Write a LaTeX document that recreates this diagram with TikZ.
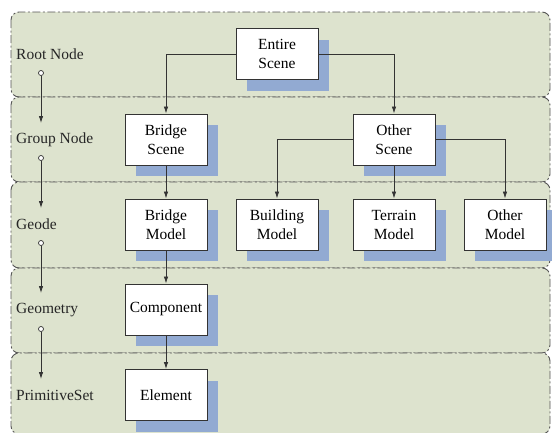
\documentclass[tikz,border=0pt]{standalone}
\usepackage{fontspec}
\setmainfont{Liberation Serif}
\usetikzlibrary{arrows.meta,shadows}
\definecolor{bandfill}{HTML}{DDE3CE}
\definecolor{bandline}{HTML}{555555}
\definecolor{shadowblue}{HTML}{92AAD2}
\definecolor{boxline}{HTML}{333333}
\begin{document}
\begin{tikzpicture}[x=1pt,y=-1pt,
  band/.style={fill=bandfill,draw=bandline,line width=0.9pt,rounded corners=8pt,
    dash pattern=on 8pt off 2.5pt on 2pt off 2.5pt},
  box/.style={draw=boxline,fill=white,line width=0.9pt,minimum width=82pt,minimum height=51pt,
    inner sep=0pt,align=center,font=\fontsize{15.5}{19}\selectfont,
    drop shadow={shadow xshift=11pt,shadow yshift=-11pt,fill=shadowblue,opacity=1,draw=none}},
  lbl/.style={anchor=west,inner sep=0pt,font=\fontsize{15.5}{19}\selectfont,text=black!85},
  conn/.style={draw=boxline,line width=0.8pt,-{Latex[length=7pt,width=4.5pt]}},
  dot/.style={circle,draw=boxline,fill=white,line width=0.7pt,inner sep=0pt,minimum size=5pt}]
\useasboundingbox (0,0) rectangle (552,432);
% bands
\draw[band] (11,12) rectangle (550,97);
\draw[band] (11,97) rectangle (550,182);
\draw[band] (11,182) rectangle (550,268);
\draw[band] (11,268) rectangle (550,353);
\draw[band] (11,353) rectangle (550,434);
% level labels
\node[lbl] (l1) at (16,54) {Root Node};
\node[lbl] (l2) at (16,139.5) {Group Node};
\node[lbl] (l3) at (16,224.5) {Geode};
\node[lbl] (l4) at (16,310) {Geometry};
\node[lbl] (l5) at (16,395) {PrimitiveSet};
% level arrows
\node[dot] (c1) at (41,73) {};
\node[dot] (c2) at (41,158) {};
\node[dot] (c3) at (41,243) {};
\node[dot] (c4) at (41,329) {};
\coordinate (t1) at (41,123);
\coordinate (t2) at (41,208);
\coordinate (t3) at (41,293);
\coordinate (t4) at (41,379);
\draw[conn] (c1) -- (t1);
\draw[conn] (c2) -- (t2);
\draw[conn] (c3) -- (t3);
\draw[conn] (c4) -- (t4);
% boxes
\node[box] (entire) at (277,54) {Entire\\Scene};
\node[box] (bscene) at (166,139.5) {Bridge\\Scene};
\node[box] (oscene) at (394,139.5) {Other\\Scene};
\node[box] (bmodel) at (166,224.5) {Bridge\\Model};
\node[box] (build) at (277,224.5) {Building\\Model};
\node[box] (terrain) at (394,224.5) {Terrain\\Model};
\node[box] (omodel) at (505,224.5) {Other\\Model};
\node[box] (comp) at (166,309.5) {Component};
\node[box] (elem) at (166,395) {Element};
% connectors
\draw[conn] (entire.west) -| (bscene.north);
\draw[conn] (entire.east) -| (oscene.north);
\draw[conn] (bscene) -- (bmodel);
\draw[conn] (oscene.west) -| (build.north);
\draw[conn] (oscene) -- (terrain);
\draw[conn] (oscene.east) -| (omodel.north);
\draw[conn] (bmodel) -- (comp);
\draw[conn] (comp) -- (elem);
\end{tikzpicture}
\end{document}
